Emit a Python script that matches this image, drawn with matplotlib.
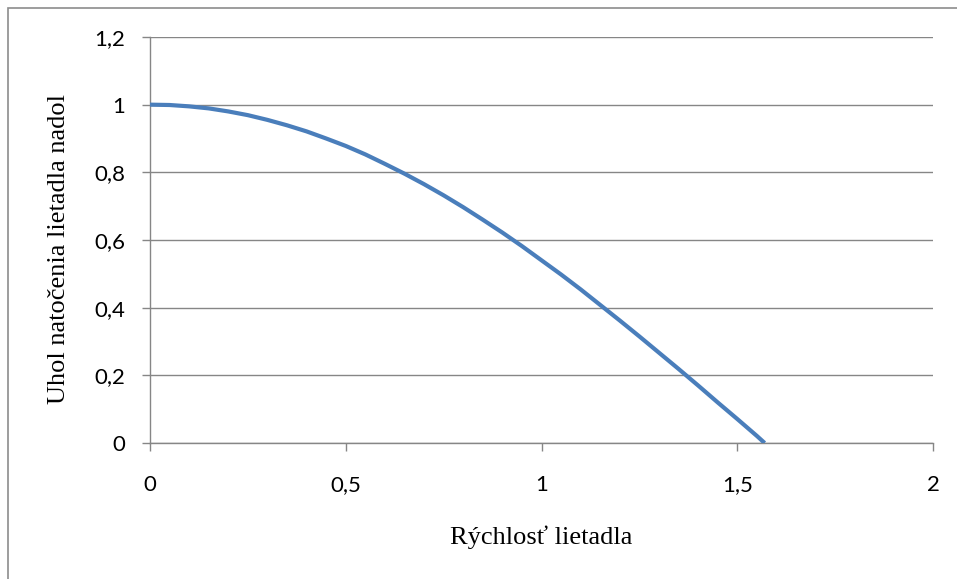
import matplotlib
matplotlib.use("Agg")
import matplotlib.pyplot as plt
from matplotlib.patches import Rectangle
from matplotlib.ticker import FuncFormatter

# Values
rychlost = [0.0, 0.05, 0.1, 0.15, 0.2, 0.25, 0.3, 0.35, 0.4, 0.45, 0.5,
            0.55, 0.6, 0.65, 0.7, 0.75, 0.8, 0.85, 0.9, 0.95, 1.0,
            1.05, 1.1, 1.15, 1.2, 1.25, 1.3, 1.35, 1.4, 1.45, 1.5, 1.55, 1.57]
uhol = [1.0, 0.999, 0.995, 0.989, 0.98, 0.969, 0.955, 0.939, 0.921, 0.9, 0.878,
        0.853, 0.825, 0.796, 0.765, 0.732, 0.697, 0.66, 0.622, 0.582, 0.54,
        0.498, 0.454, 0.408, 0.362, 0.315, 0.267, 0.219, 0.17, 0.12, 0.071, 0.021, 0.0]
x_ticks = [0, 0.5, 1, 1.5, 2]
y_ticks = [0, 0.2, 0.4, 0.6, 0.8, 1.0, 1.2]

fig = plt.figure(figsize=(9.57, 5.79), dpi=100)

# Outer chart border (right and bottom edges cut off in the original)
fig.patches.append(Rectangle((8 / 957, -0.1), 1.2, 1.1 - 8 / 579,
                             transform=fig.transFigure, fill=False,
                             edgecolor="#8c8c8c", linewidth=1.2))

ax = fig.add_axes([150 / 957, 1 - 443 / 579, 783 / 957, 406 / 579])

grid_col = "#868686"
ax.plot(rychlost, uhol, color="#4a7ebb", linewidth=3.0, solid_capstyle="butt", zorder=3)

ax.set_xlim(0, 2)
ax.set_ylim(0, 1.2)
ax.set_xticks(x_ticks)
ax.set_yticks(y_ticks)

comma = FuncFormatter(lambda v, p: ("%g" % v).replace(".", ","))
ax.xaxis.set_major_formatter(comma)
ax.yaxis.set_major_formatter(comma)

ax.yaxis.grid(True, color=grid_col, linewidth=1.0)
ax.set_axisbelow(True)
for s in ["top", "right"]:
    ax.spines[s].set_visible(False)
for s in ["left", "bottom"]:
    ax.spines[s].set_color(grid_col)
    ax.spines[s].set_linewidth(1.0)

ax.tick_params(axis="both", direction="out", length=6, width=1.0,
               color=grid_col, labelsize=16, labelcolor="black")
ax.tick_params(axis="y", pad=12)
ax.tick_params(axis="x", pad=17)
for lab in ax.get_xticklabels() + ax.get_yticklabels():
    lab.set_family(["Lato", "DejaVu Sans"])

serif = ["Liberation Serif", "DejaVu Serif"]
fig.text(541.5 / 957, 1 - 537 / 579, "Rýchlosť lietadla", family=serif,
         fontsize=19, ha="center", va="center")
fig.text(59 / 957, 1 - 249 / 579, "Uhol natočenia lietadla nadol", family=serif,
         fontsize=19, ha="center", va="center", rotation=90)

fig.savefig("out.png", dpi=100)
